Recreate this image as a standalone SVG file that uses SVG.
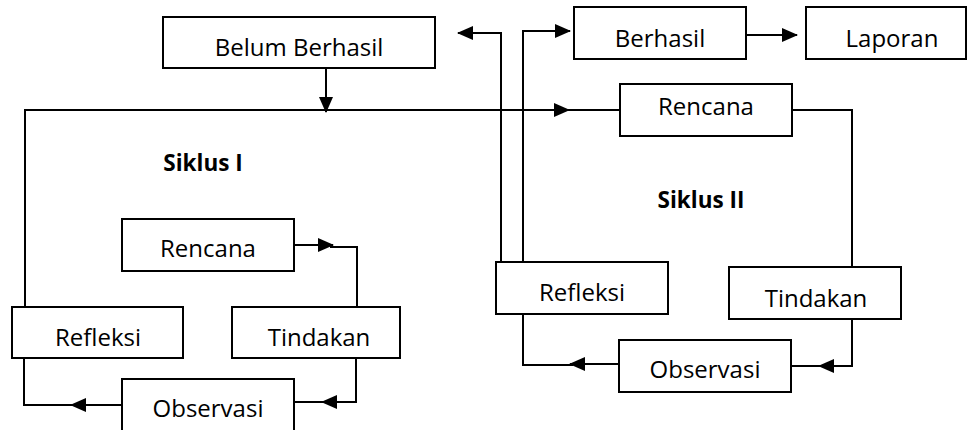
<svg xmlns="http://www.w3.org/2000/svg" width="968" height="430" viewBox="0 0 968 430">
<style>
.box{fill:#fff;stroke:#000;stroke-width:2}
.t{font-family:"Open Sans","Noto Sans",sans-serif;font-size:24px;fill:#000;text-anchor:middle}
.b{font-family:"Open Sans","Noto Sans",sans-serif;font-size:22.5px;font-weight:bold;fill:#000;text-anchor:middle}
.c{fill:none;stroke:#000;stroke-width:2}
</style>
<defs>
<marker id="ah" markerWidth="16" markerHeight="14" refX="15" refY="7" orient="auto" markerUnits="userSpaceOnUse">
<path d="M0,0 L16,7 L0,14 z" fill="#000"/>
</marker>
</defs>
<rect width="968" height="430" fill="#fff"/>
<g id="connectors">
<path class="c" d="M326,68 V112" marker-end="url(#ah)"/>
<path class="c" d="M25,307 V110 H569" marker-end="url(#ah)"/>
<path class="c" d="M566,110 H620"/>
<path class="c" d="M501,262 V33 H458" marker-end="url(#ah)"/>
<path class="c" d="M523,262 V31 H570" marker-end="url(#ah)"/>
<path class="c" d="M746,35 H797" marker-end="url(#ah)"/>
<path class="c" d="M792,110 H852 V267"/>
<path class="c" d="M852,319 V366 H819" marker-end="url(#ah)"/>
<path class="c" d="M822,366 H791"/>
<path class="c" d="M619,364 H570" marker-end="url(#ah)"/>
<path class="c" d="M573,365 H523 V314"/>
<path class="c" d="M294,245 H333" marker-end="url(#ah)"/>
<path class="c" d="M330,247 H357 V307"/>
<path class="c" d="M356,358 V402 H322" marker-end="url(#ah)"/>
<path class="c" d="M325,402 H294"/>
<path class="c" d="M122,405 H71" marker-end="url(#ah)"/>
<path class="c" d="M74,405 H24 V358"/>
</g>
<g id="belum-berhasil"><rect class="box" x="163" y="17" width="272" height="51"/><text class="t" x="299" y="56">Belum Berhasil</text></g>
<g id="berhasil"><rect class="box" x="574" y="7" width="172" height="52"/><text class="t" x="660" y="47">Berhasil</text></g>
<g id="laporan"><rect class="box" x="806" y="7" width="160" height="52"/><text class="t" x="892" y="47">Laporan</text></g>
<g id="rencana-2"><rect class="box" x="620" y="84" width="172" height="52"/><text class="t" x="706" y="115">Rencana</text></g>
<g id="siklus-1"><text class="b" x="203" y="171">Siklus I</text></g>
<g id="siklus-2"><text class="b" x="701" y="208">Siklus II</text></g>
<g id="refleksi-2"><rect class="box" x="496" y="262" width="172" height="52"/><text class="t" x="582" y="301">Refleksi</text></g>
<g id="tindakan-2"><rect class="box" x="729" y="267" width="172" height="52"/><text class="t" x="816" y="307">Tindakan</text></g>
<g id="observasi-2"><rect class="box" x="619" y="340" width="172" height="52"/><text class="t" x="705" y="378">Observasi</text></g>
<g id="rencana-1"><rect class="box" x="122" y="219" width="172" height="52"/><text class="t" x="208" y="257">Rencana</text></g>
<g id="refleksi-1"><rect class="box" x="12" y="307" width="171" height="51"/><text class="t" x="98" y="346">Refleksi</text></g>
<g id="tindakan-1"><rect class="box" x="232" y="307" width="168" height="51"/><text class="t" x="319" y="346">Tindakan</text></g>
<g id="observasi-1"><rect class="box" x="122" y="379" width="172" height="53"/><text class="t" x="208" y="417">Observasi</text></g>
</svg>
